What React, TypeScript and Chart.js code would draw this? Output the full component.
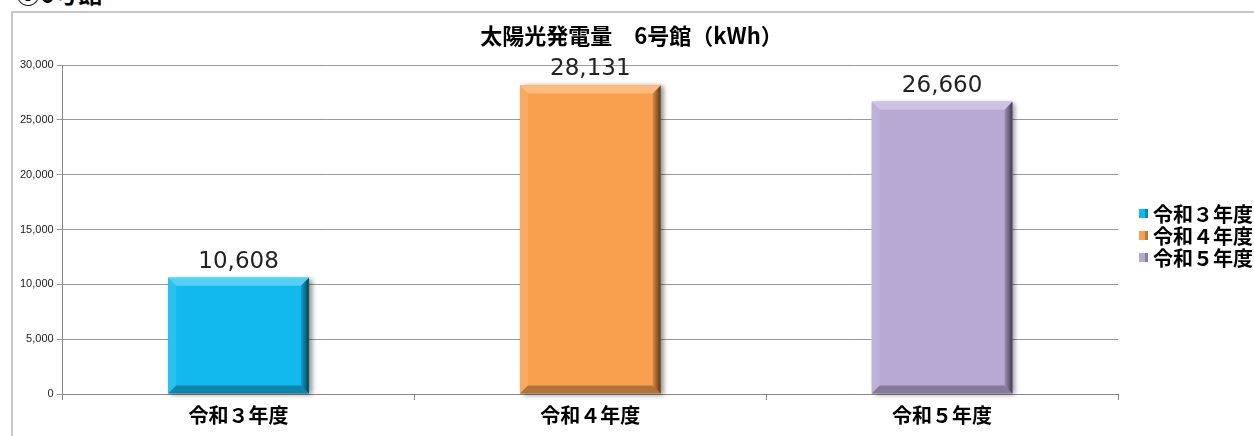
import React, { useEffect, useRef } from "react";
import { Chart, registerables } from "chart.js";

Chart.register(...registerables);

const pageHeading = "⑥6号館";
const chartTitle = "太陽光発電量　6号館（kWh）";
const categories = ["令和３年度", "令和４年度", "令和５年度"];
const generation = [10608, 28131, 26660];
const barColors = ["#12b9ef", "#f9a04e", "#b8a8d4"];
const yTicks = [0, 5000, 10000, 15000, 20000, 25000, 30000];

const fmt = (v: number) => v.toLocaleString("en-US");

const barShadow = {
  id: "barShadow",
  beforeDatasetsDraw(chart: any) {
    const ctx = chart.ctx;
    const meta = chart.getDatasetMeta(0);
    meta.data.forEach((el: any, i: number) => {
      const { x, y, base, width } = el.getProps(["x", "y", "base", "width"], true);
      ctx.save();
      ctx.shadowColor = "rgba(0,0,0,0.45)";
      ctx.shadowBlur = 5;
      ctx.shadowOffsetX = 3;
      ctx.shadowOffsetY = 1;
      ctx.fillStyle = barColors[i];
      ctx.fillRect(x - width / 2, y, width, base - y);
      ctx.restore();
    });
  },
  afterDatasetsDraw(chart: any) {
    const ctx = chart.ctx;
    const meta = chart.getDatasetMeta(0);
    meta.data.forEach((el: any) => {
      const { x, y, base, width } = el.getProps(["x", "y", "base", "width"], true);
      const l = x - width / 2;
      const r = x + width / 2;
      const t = y;
      const b = base;
      const d = 8;
      const poly = (pts: number[][], fill: any) => {
        ctx.beginPath();
        ctx.moveTo(pts[0][0], pts[0][1]);
        for (let k = 1; k < pts.length; k++) ctx.lineTo(pts[k][0], pts[k][1]);
        ctx.closePath();
        ctx.fillStyle = fill;
        ctx.fill();
      };
      ctx.save();
      poly([[l, t], [r, t], [r - d, t + d], [l + d, t + d]], "rgba(255,255,255,0.3)");
      poly([[l, t], [l + d, t + d], [l + d, b - d], [l, b]], "rgba(255,255,255,0.1)");
      const g = ctx.createLinearGradient(r - d, 0, r, 0);
      g.addColorStop(0, "rgba(0,0,0,0.12)");
      g.addColorStop(1, "rgba(0,0,0,0.65)");
      poly([[r, t], [r, b], [r - d, b - d], [r - d, t + d]], g);
      poly([[l, b], [l + d, b - d], [r - d, b - d], [r, b]], "rgba(0,0,0,0.28)");
      ctx.restore();
    });
  },
};

const valueLabels = {
  id: "valueLabels",
  afterDatasetsDraw(chart: any) {
    const ctx = chart.ctx;
    const meta = chart.getDatasetMeta(0);
    ctx.save();
    ctx.font = "23px 'DejaVu Sans'";
    ctx.fillStyle = "#222";
    ctx.textAlign = "center";
    ctx.textBaseline = "alphabetic";
    meta.data.forEach((el: any, i: number) => {
      const { x, y } = el.getProps(["x", "y"], true);
      ctx.fillText(fmt(generation[i]), x, y - 10);
    });
    ctx.restore();
  },
};

const titleAndLegend = {
  id: "titleAndLegend",
  afterDraw(chart: any) {
    const ctx = chart.ctx;
    const area = chart.chartArea;
    ctx.save();
    ctx.font = "bold 22px 'Noto Sans CJK JP'";
    ctx.fillStyle = "#000";
    ctx.textAlign = "center";
    ctx.textBaseline = "middle";
    ctx.fillText(chartTitle, chart.width / 2 - 2, 23);

    const mid = (area.top + area.bottom) / 2 + 6;
    const bx = area.right + 21;
    ctx.font = "bold 20px 'Noto Sans CJK JP'";
    ctx.textAlign = "left";
    categories.forEach((c, i) => {
      const cy = mid + (i - 1) * 22;
      ctx.fillStyle = barColors[i];
      ctx.fillRect(bx, cy - 4.5, 9, 9);
      ctx.fillStyle = "rgba(0,0,0,0.25)";
      ctx.fillRect(bx + 6, cy - 4.5, 3, 9);
      ctx.fillStyle = "#000";
      ctx.fillText(c, bx + 14, cy + 1);
    });
    ctx.restore();
  },
};

export default function App() {
  const ref = useRef<HTMLCanvasElement>(null);
  useEffect(() => {
    if (!ref.current) return;
    const chart = new Chart(ref.current, {
      type: "bar",
      data: {
        labels: categories,
        datasets: [
          {
            label: chartTitle,
            data: generation,
            backgroundColor: barColors,
            borderWidth: 0,
            barPercentage: 0.4,
            categoryPercentage: 1,
          },
        ],
      },
      options: {
        animation: false,
        responsive: false,
        maintainAspectRatio: false,
        layout: { padding: { left: 4, right: 136, top: 52, bottom: 6 } },
        plugins: {
          title: { display: false },
          tooltip: { enabled: false },
          legend: { display: false },
        },
        scales: {
          x: {
            offset: true,
            grid: {
              display: true,
              drawOnChartArea: false,
              drawTicks: true,
              tickLength: 6,
              color: "#888",
              offset: true,
            },
            border: { display: true, color: "#888", width: 1 },
            ticks: {
              color: "#000",
              padding: 3,
              font: { size: 20, weight: "bold", family: "'Noto Sans CJK JP'" },
            },
          },
          y: {
            min: 0,
            max: 30000,
            afterBuildTicks: (axis: any) => {
              axis.ticks = yTicks.map((v) => ({ value: v }));
            },
            grid: { color: "#999", tickLength: 6 },
            border: { display: true, color: "#888", width: 1 },
            ticks: {
              color: "#222",
              padding: 3,
              font: { size: 11, family: "'Liberation Sans'" },
              callback: (v: any) => fmt(Number(v)),
            },
          },
        },
      },
      plugins: [barShadow, valueLabels, titleAndLegend],
    });
    return () => chart.destroy();
  }, []);

  return (
    <div style={{ position: "fixed", left: 0, top: 0, width: 1254, height: 436, overflow: "hidden", background: "#fff" }}>
      <div
        style={{
          position: "absolute",
          left: 16,
          top: -19,
          fontFamily: "'Noto Sans CJK JP'",
          fontWeight: "bold",
          fontSize: 24,
          lineHeight: "24px",
          color: "#000",
          whiteSpace: "nowrap",
        }}
      >
        {pageHeading}
      </div>
      <div
        style={{
          position: "absolute",
          left: 11,
          top: 11,
          width: 1243,
          height: 425,
          borderLeft: "2px solid #c8c8c8",
          borderTop: "2px solid #c8c8c8",
        }}
      >
        <canvas ref={ref} width={1241} height={423} style={{ display: "block", width: 1241, height: 423 }} />
      </div>
    </div>
  );
}
